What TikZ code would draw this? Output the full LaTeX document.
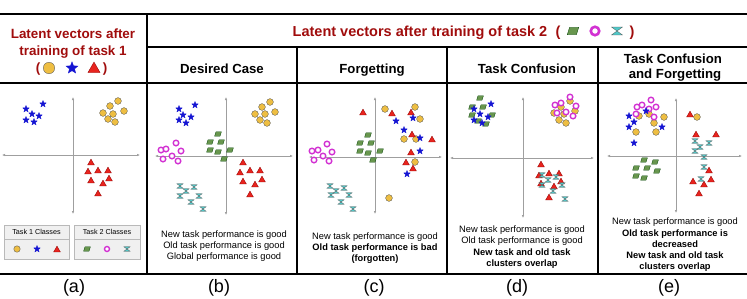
\documentclass[tikz,border=0pt]{standalone}
\usepackage{fontspec}
\setmainfont{Liberation Sans}
\usepackage{xcolor}
\usepackage{tikz}
\usetikzlibrary{shapes.geometric,arrows.meta}

\definecolor{hdred}{RGB}{160,12,12}
\definecolor{ptyel}{RGB}{238,190,66}
\definecolor{ptblue}{RGB}{20,20,210}
\definecolor{ptred}{RGB}{232,36,30}
\definecolor{ptgreen}{RGB}{104,150,78}
\definecolor{ptmag}{RGB}{210,50,210}
\definecolor{ptcyan}{RGB}{80,200,200}

\begin{document}
\begin{tikzpicture}[x=1pt,y=-1pt,line width=0.4pt,
  every node/.style={inner sep=0pt},
  ycirc/.style={circle,draw=gray!70!black,fill=ptyel,line width=0.35pt,minimum size=6.8pt},
  bstar/.style={star,star points=5,star point ratio=2.3,draw=ptblue,fill=ptblue,line width=0.3pt,minimum size=7pt},
  rtri/.style={regular polygon,regular polygon sides=3,draw=red!55!black,fill=ptred,line width=0.3pt,minimum size=7.8pt},
  mring/.style={circle,draw=ptmag,fill=white,line width=1.4pt,minimum size=5.6pt},
  gpar/.pic={\draw[green!25!black,fill=ptgreen,line width=0.3pt] (-3.4,2.2) -- (2.0,2.2) -- (3.4,-2.2) -- (-2.0,-2.2) -- cycle;},
  chour/.pic={\draw[gray!65!black,fill=ptcyan,line width=0.3pt] (-3.2,-2.3) -- (3.2,-2.3) -- (-3.2,2.3) -- (3.2,2.3) -- cycle;},
  thickrule/.style={line width=2.6pt},
  thinrule/.style={line width=1.5pt},
  axline/.style={draw=gray!75,line width=1pt,{Latex[length=3pt,width=2.6pt]}-{Latex[length=3pt,width=2.6pt]}},
  legbox/.style={draw=gray!55,fill=gray!12,line width=0.6pt},
  hdA/.style={font=\fontsize{13.4}{16}\selectfont\bfseries,text=hdred,anchor=base},
  hdB/.style={font=\fontsize{14.5}{17}\selectfont\bfseries,text=hdred,anchor=base},
  chead/.style={font=\fontsize{13.2}{15}\selectfont\bfseries,anchor=base},
  ptxt/.style={font=\fontsize{9.3}{11}\selectfont,anchor=base},
  legtxt/.style={font=\fontsize{7.2}{8}\selectfont},
  sublbl/.style={font=\fontsize{18}{20}\selectfont,anchor=base}]
  \useasboundingbox (0,0) rectangle (747,298);

  % table rules
  \draw[thickrule] (0,14) -- (747,14);
  \draw[thickrule] (0,83) -- (747,83);
  \draw[thickrule] (0,274) -- (747,274);
  \draw[thickrule] (147,14) -- (147,274);
  \draw[thinrule] (147,47) -- (747,47);
  \foreach \x in {297,447,598} \draw[thinrule] (\x,47) -- (\x,274);

  % headers
  \node[hdA] (hA1) at (73,38) {Latent vectors after};
  \node[hdA] (hA2) at (73,55) {training of task 1};
  \node[hdA] (hAo) at (38,72) {(};
  \node[hdA] (hAc) at (105,72) {)};
  \node[ycirc,minimum size=11.5pt] at (49,68) {};
  \node[bstar,minimum size=12.5pt] at (72,68) {};
  \node[rtri,minimum size=14pt] at (94,69) {};
  \node[hdB] (hB) at (420,36) {Latent vectors after training of task 2};
  \node[hdB] (hBo) at (558,36) {(};
  \node[hdB] (hBc) at (632,36) {)};
  \pic[scale=1.7] at (573,31) {gpar};
  \node[mring,minimum size=8.5pt,line width=2.6pt] at (595,31) {};
  \pic[scale=1.7] at (617,31) {chour};

  \node[chead] (cb) at (222,73) {Desired Case};
  \node[chead] (cc) at (372,73) {Forgetting};
  \node[chead] (cd) at (527,73) {Task Confusion};
  \node[chead] (ce1) at (673,63) {Task Confusion};
  \node[chead] (ce2) at (675,78) {and Forgetting};

  % (a) task 1
  \draw[axline] (2,155) -- (140,155);
  \draw[axline] (73,214) -- (73,97);
  \foreach \p in {(43,104),(26,109),(32,114),(39,116),(26,120),(34,122)} \node[bstar] at \p {};
  \foreach \p in {(118,101),(110,106),(103,113),(113,114),(124,111),(108,119),(115,122)} \node[ycirc] at \p {};
  \foreach \p in {(91,163),(88,172),(98,171),(108,171),(91,181),(109,179),(103,184),(98,194)} \node[rtri] at \p {};
  \draw[legbox] (4,225) rectangle (69,259);
  \draw[legbox] (4,239) -- (69,239);
  \draw[legbox] (74,225) rectangle (140,259);
  \draw[legbox] (74,239) -- (140,239);
  \node[legtxt] (lg1) at (36.5,232) {Task 1 Classes};
  \node[legtxt] (lg2) at (107,232) {Task 2 Classes};
  \node[ycirc,minimum size=6.5pt] at (17,249) {};
  \node[bstar] at (37,249) {};
  \node[rtri] at (57,250) {};
  \pic at (87,249) {gpar};
  \node[mring,minimum size=5pt] at (107,249) {};
  \pic at (127,249) {chour};

  % (b) desired case
  \draw[axline] (155,156) -- (293,156);
  \draw[axline] (226,215) -- (226,97);
  \foreach \p in {(195,105),(179,109),(183,115),(191,117),(179,120),(186,123)} \node[bstar] at \p {};
  \foreach \p in {(270,102),(262,107),(255,114),(265,114),(275,112),(260,120),(267,123)} \node[ycirc] at \p {};
  \foreach \p in {(218,134),(210,142),(221,142),(210,150),(218,152),(230,150),(224,159)} \pic at \p {gpar};
  \foreach \p in {(176,143),(161,150),(166,149),(181,151),(172,156),(163,159),(178,161)} \node[mring] at \p {};
  \foreach \p in {(243,163),(240,173),(250,171),(260,171),(243,182),(262,180),(255,185),(250,195)} \node[rtri] at \p {};
  \foreach \p in {(180,186),(194,187),(186,191),(180,196),(199,196),(191,202),(203,209)} \pic at \p {chour};
  \node[ptxt] (tb1) at (224,237) {New task performance is good};
  \node[ptxt] (tb2) at (224,248) {Old task performance is good};
  \node[ptxt] (tb3) at (224,259) {Global performance is good};

  % (c) forgetting
  \draw[axline] (309,157) -- (442,157);
  \draw[axline] (375,214) -- (375,97);
  \foreach \p in {(368,135),(360,143),(371,143),(360,151),(368,153),(380,151),(373,160)} \pic at \p {gpar};
  \foreach \p in {(327,144),(312,151),(318,150),(332,152),(323,156),(314,160),(329,161)} \node[mring] at \p {};
  \foreach \p in {(330,186),(344,188),(336,191),(331,195),(349,195),(341,202),(353,209)} \pic at \p {chour};
  \foreach \p in {(385,109),(415,107),(420,119),(404,139),(416,139),(415,162),(389,198)} \node[ycirc] at \p {};
  \foreach \p in {(363,113),(392,114),(411,113),(412,135),(432,140),(411,153),(406,163),(413,169)} \node[rtri] at \p {};
  \foreach \p in {(396,121),(413,118),(404,130),(420,138),(420,151),(407,174)} \node[bstar] at \p {};
  \node[ptxt] (tc1) at (375,239) {New task performance is good};
  \node[ptxt] (tc2) at (375,250) {\bfseries Old task performance is bad};
  \node[ptxt] (tc3) at (375,261) {\bfseries (forgotten)};

  % (d) task confusion
  \draw[axline] (450,158) -- (594,158);
  \draw[axline] (523,218) -- (523,97);
  \foreach \p in {(480,98),(472,107),(483,107),(472,115),(492,115),(486,124),(478,121)} \pic at \p {gpar};
  \foreach \p in {(491,104),(474,109),(480,114),(488,117),(474,120),(482,123)} \node[bstar] at \p {};
  \foreach \p in {(554,113),(561,107),(570,101),(575,111),(564,114),(559,120),(566,123)} \node[ycirc] at \p {};
  \foreach \p in {(570,97),(555,105),(561,103),(576,106),(557,113),(566,112),(573,116)} \node[mring] at \p {};
  \foreach \p in {(541,165),(539,176),(549,174),(559,174),(541,184),(561,182),(554,187),(549,198)} \node[rtri] at \p {};
  \foreach \p in {(542,175),(556,177),(548,180),(542,185),(562,185),(553,191),(565,199)} \pic at \p {chour};
  \node[ptxt] (td1) at (522,232) {New task performance is good};
  \node[ptxt] (td2) at (522,243) {Old task performance is good};
  \node[ptxt] (td3) at (522,255) {\bfseries New task and old task};
  \node[ptxt] (td4) at (522,266) {\bfseries clusters overlap};

  % (e) task confusion and forgetting
  \draw[axline] (607,156) -- (742,156);
  \draw[axline] (676,213) -- (676,98);
  \foreach \p in {(639,116),(649,114),(664,117),(654,123),(636,132),(656,132),(697,117)} \node[ycirc] at \p {};
  \foreach \p in {(651,100),(637,107),(642,105),(656,107),(649,109),(636,114),(654,117)} \node[mring] at \p {};
  \foreach \p in {(629,116),(646,111),(634,122),(629,127),(662,127),(634,143)} \node[bstar] at \p {};
  \foreach \p in {(690,115),(696,135),(716,135),(709,171),(693,182),(711,180),(704,185),(699,194)} \node[rtri] at \p {};
  \foreach \p in {(695,141),(709,143),(700,147),(695,151),(704,157),(704,167),(701,179)} \pic at \p {chour};
  \foreach \p in {(644,160),(655,162),(636,168),(647,168),(657,171),(636,176),(644,178)} \pic at \p {gpar};
  \node[ptxt] (te1) at (675,224) {New task performance is good};
  \node[ptxt] (te2) at (675,236) {\bfseries Old task performance is};
  \node[ptxt] (te3) at (675,247) {\bfseries decreased};
  \node[ptxt] (te4) at (675,258) {\bfseries New task and old task};
  \node[ptxt] (te5) at (675,269) {\bfseries clusters overlap};

  % sub-labels
  \node[sublbl] (la) at (74,292) {(a)};
  \node[sublbl] (lb) at (219,292) {(b)};
  \node[sublbl] (lc) at (374,292) {(c)};
  \node[sublbl] (ld) at (517,292) {(d)};
  \node[sublbl] (le) at (669,292) {(e)};
\end{tikzpicture}
\end{document}
